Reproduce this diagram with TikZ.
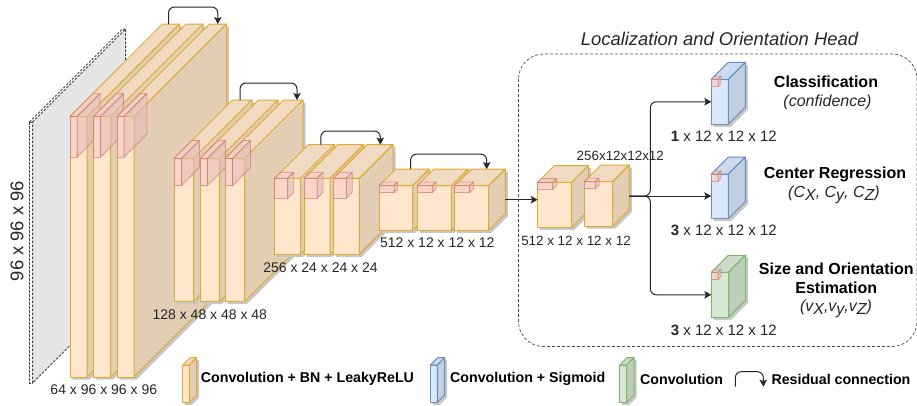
\documentclass[tikz,border=0pt]{standalone}
\usepackage{fontspec}
\setmainfont{Liberation Sans}
\usetikzlibrary{arrows.meta,calc}
\definecolor{ofront}{HTML}{FFE6CC}\definecolor{otop}{HTML}{F0DAC2}\definecolor{oside}{HTML}{E3CDB5}\definecolor{oline}{HTML}{DFAB30}
\definecolor{bfront}{HTML}{DAE8FC}\definecolor{btop}{HTML}{CDDBF0}\definecolor{bside}{HTML}{C1CFE2}\definecolor{bline}{HTML}{6C8EBF}
\definecolor{gfront}{HTML}{D5E8D4}\definecolor{gtop}{HTML}{C9DBC8}\definecolor{gside}{HTML}{BDCFBC}\definecolor{gline}{HTML}{82B366}
\definecolor{rfill}{HTML}{F8CAC6}\definecolor{rline}{HTML}{C8746A}
\newcommand\cub[7]{%
  \fill[black!22,shift={(2.5,2.5)}] (#2,#3) -- ++(#6,-#6) -- ++(#4,0) -- ++(0,#5) -- ++(-#6,#6) -- ++(-#4,0) -- cycle;
  \node[draw=#7line,fill=#7front,line width=1pt,anchor=north west,inner sep=0pt,outer sep=0pt,minimum width=#4pt,minimum height=#5pt] (#1) at (#2,#3) {};
  \filldraw[draw=#7line,fill=#7top,line width=1pt,line join=round] (#1.north west) -- ++(#6,-#6) -- ++(#4,0) -- ++(-#6,#6) -- cycle;
  \filldraw[draw=#7line,fill=#7side,line width=1pt,line join=round] (#1.north east) -- ++(#6,-#6) -- ++(0,#5) -- ++(-#6,#6) -- cycle;
  \coordinate (#1-bl) at ([shift={(#6,-#6)}]#1.north west);
  \coordinate (#1-br) at ([shift={(#6,-#6)}]#1.north east);
}
\newcommand\red[6]{%
  \begin{scope}[opacity=.6]
  \filldraw[draw=rline,fill=rfill,line width=.8pt,line join=round] (#1,#2) rectangle ++(#3,#4);
  \filldraw[draw=rline,fill=rfill,line width=.8pt,line join=round] (#1,#2) -- ++(#5,-#5) -- ++(#3,0) -- ++(-#5,#5) -- cycle;
  \filldraw[draw=rline,fill=rfill!92!black,line width=.8pt,line join=round] (#1+#3,#2) -- ++(#5,-#5) -- ++(0,#4) -- ++(-#5,#5) -- cycle;
  \end{scope}
}
\tikzset{
  conn/.style={draw=black!85,line width=1pt,-{Stealth[length=7pt,width=7.5pt,inset=1.5pt]}},
  res/.style={conn,rounded corners=6pt},
  lab/.style={inner sep=0pt,text=black!85,font=\fontsize{14}{16}\selectfont},
  lab2/.style={inner sep=0pt,text=black!85,font=\fontsize{15}{17}\selectfont},
  hd/.style={inner sep=0pt,text=black,font=\fontsize{16}{19}\selectfont\bfseries},
  sub/.style={inner sep=0pt,text=black!85,font=\fontsize{16}{19}\selectfont\itshape},
  leg/.style={inner sep=0pt,anchor=west,text=black,font=\fontsize{14.2}{16}\selectfont\bfseries},
  slab/.style={draw=black!75,dash pattern=on 2.5pt off 1.5pt,line width=1pt},
}
\newcommand\sbs[1]{\raisebox{-.35ex}{#1}}
\begin{document}
\begin{tikzpicture}[x=1pt,y=-1pt]
\useasboundingbox (0,0) rectangle (917,405);
% input slab
\filldraw[slab,fill=black!10] (32.5,122) -- (125.5,29) -- (125.5,290) -- (32.5,383) -- cycle;
\draw[slab] (29.5,122) -- (122.5,29) -- (125.5,29);
\draw[slab] (29.5,122) -- (32.5,122);
\draw[slab] (29.5,122) -- (29.5,383) -- (32.5,383);
% group 1
\cub{a1}{70}{116.5}{17}{260.5}{92.5}{o}\red{70}{116.5}{7}{40.5}{23}{}
\cub{a2}{93.5}{116.5}{17}{260.5}{92.5}{o}\red{93.5}{116.5}{7}{40.5}{23}{}
\cub{a3}{117}{116.5}{17}{260.5}{92.5}{o}\red{117}{116.5}{7}{40.5}{23}{}
% group 2
\cub{b1}{174}{158.5}{19.5}{143.2}{58.5}{o}\red{174}{158.5}{7.5}{27}{18}{}
\cub{b2}{200}{158.5}{19.5}{143.2}{58.5}{o}\red{200}{158.5}{7.5}{27}{18}{}
\cub{b3}{225}{158.5}{19.5}{143.2}{58.5}{o}\red{225}{158.5}{7.5}{27}{18}{}
% group 3
\cub{c1}{274.7}{178.3}{26}{76}{33.7}{o}\red{274.7}{178.3}{13}{20}{6}{}
\cub{c2}{304}{178.3}{26}{76}{33.7}{o}\red{304}{178.3}{13}{20}{6}{}
\cub{c3}{333.3}{178.3}{26}{76}{33.7}{o}\red{333.3}{178.3}{13}{20}{6}{}
% group 4
\cub{d1}{379}{185.7}{33.7}{44.6}{16.6}{o}\red{379}{185.7}{15}{7}{3.7}{}
\cub{d2}{417.3}{185.7}{34.3}{44.6}{16.6}{o}\red{417.3}{185.7}{15}{7}{3.7}{}
\cub{d3}{454.7}{185.7}{34}{44.6}{16.6}{o}\red{454.7}{185.7}{15}{7}{3.7}{}
% head
\cub{h1}{537.7}{182.3}{34}{45}{16.8}{o}\red{537.7}{182.3}{15}{7}{3.7}{}
\cub{h2}{584.3}{181.7}{28.4}{44.5}{16.6}{o}\red{584.3}{181.7}{11}{7}{3.7}{}
\cub{cls}{711.3}{79.3}{17}{45}{17}{b}\red{711.3}{79.3}{6.7}{7.3}{3}{}
\cub{ctr}{711.3}{174}{17}{44.7}{17}{b}\red{711.3}{174}{6.7}{7.3}{3}{}
\cub{siz}{711.3}{272.3}{17.3}{45}{17}{g}\red{711.3}{272.3}{6.7}{7.3}{3}{}
% legend cuboids
\cub{lo}{182.7}{365}{6.6}{37.3}{7.3}{o}
\cub{lb}{430.3}{365}{7}{37.3}{7.3}{b}
\cub{lg}{619.7}{365}{7}{37.3}{7.3}{g}
% head frame
\draw[draw=black!70,densely dashed,line width=.7pt,rounded corners=25pt] (518.5,54) rectangle (917,346.5);
% residual connections
\draw[res] ([xshift=6pt]a1-bl) -- ++(0,-17) -| ([xshift=-8.7pt]a3-br);
\draw[res] ([xshift=7.5pt]b1-bl) -- ++(0,-17) -| ([xshift=-6pt]b3-br);
\draw[res] ([xshift=12.5pt]c1-bl) -- ++(0,-13.6) -| ([xshift=-12.7pt]c3-br);
\draw[res] ([xshift=15pt]d1-bl) -- ++(0,-15) -| ([xshift=-18.6pt]d3-br);
% main connectors
\coordinate (dout) at (505.3,199.7);
\coordinate (hout) at (629.3,196);
\coordinate (hb) at (650.3,196);
\draw[conn] (dout) -- (dout -| h1.west);
\draw[conn] (hout) -- (hout -| ctr.west);
\draw[conn,rounded corners=6pt] (hout) -- (hb) -- (hb |- cls.west) -- (cls.west);
\draw[conn,rounded corners=6pt] (hout) -- (hb) -- (hb |- siz.west) -- (siz.west);
% labels
\node[rotate=90,inner sep=0pt,text=black!85,font=\fontsize{18.4}{20}\selectfont] (tin) at (17,231) {96 x 96 x 96};
\node[lab] (t1) at (103.8,390) {64 x 96 x 96 x 96};
\node[lab] (t2) at (209.8,314.3) {128 x 48 x 48 x 48};
\node[lab] (t3) at (320.5,267.3) {256 x 24 x 24 x 24};
\node[lab] (t4) at (437.3,242.7) {512 x 12 x 12 x 12};
\node[lab,font=\fontsize{13.4}{16}\selectfont] (t5) at (576,241) {512 x 12 x 12 x 12};
\node[lab,font=\fontsize{13.4}{16}\selectfont] (t6) at (620.3,156.3) {256x12x12x12};
\node[lab2] (t7) at (723.8,136) {\textbf{1} x 12 x 12 x 12};
\node[lab2] (t8) at (723.8,230) {\textbf{3} x 12 x 12 x 12};
\node[lab2] (t9) at (723.8,330) {\textbf{3} x 12 x 12 x 12};
\node[inner sep=0pt,text=black!85,font=\fontsize{18.4}{21}\selectfont\itshape] (ttl) at (719.5,39) {Localization and Orientation Head};
\node[hd] (h-a) at (826,82) {Classification};
\node[sub] (s-a) at (827.5,102) {(confidence)};
\node[hd] (h-b) at (835,174) {Center Regression};
\node[sub] (s-b) at (834,195) {(C\sbs{X}, C\sbs{y}, C\sbs{Z})};
\node[hd] (h-c) at (836.3,268.3) {Size and Orientation};
\node[hd] (h-d) at (836.3,287.7) {Estimation};
\node[sub] (s-c) at (836,308.7) {(v\sbs{X},v\sbs{y},v\sbs{Z})};
% legend
\node[leg] (l1) at (200.7,379) {Convolution + BN + LeakyReLU};
\node[leg] (l2) at (450,379) {Convolution + Sigmoid};
\node[leg] (l3) at (640,379) {Convolution};
\node[leg] (l4) at (771.3,379) {Residual connection};
\coordinate (rs) at (735.3,386.7);
\coordinate (re) at (763.3,386.7);
\draw[conn,rounded corners=6pt] (rs) -- (rs |- 0,371.7) -- (re |- 0,371.7) -- (re);
\end{tikzpicture}
\end{document}
